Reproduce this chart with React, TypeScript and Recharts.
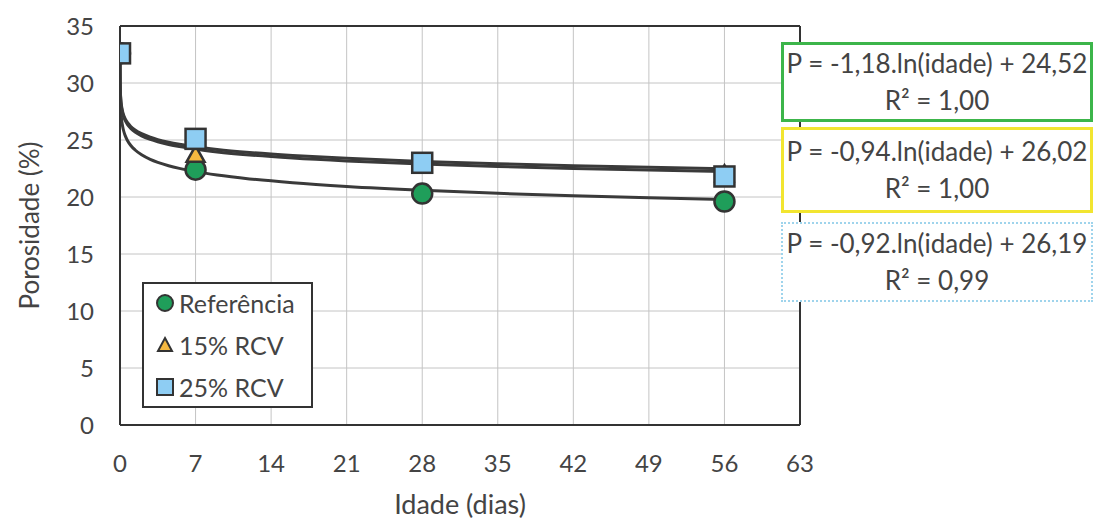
import React from "react";
import {
  ComposedChart,
  Scatter,
  Line,
  XAxis,
  YAxis,
  CartesianGrid,
  ReferenceLine,
} from "recharts";

// ---- data ----
const ages = [0.001, 7, 28, 56];
const referencia = [32.6, 22.4, 20.3, 19.6];
const rcv15 = [32.5, 23.7, 22.9, 22.0];
const rcv25 = [32.6, 25.1, 23.0, 21.8];

const seriesNames = ["Referência", "15% RCV", "25% RCV"];
// logarithmic trendline coefficients printed in the chart: P = a.ln(idade) + b
const trendSlopes = [-1.18, -0.94, -0.92];
const trendIntercepts = [24.52, 26.02, 26.19];
const trendR2 = ["1,00", "1,00", "0,99"];
const equationLabels = [
  "P = -1,18.ln(idade) + 24,52",
  "P = -0,94.ln(idade) + 26,02",
  "P = -0,92.ln(idade) + 26,19",
];

const xTicks = [0, 7, 14, 21, 28, 35, 42, 49, 56, 63];
const yTicks = [0, 5, 10, 15, 20, 25, 30, 35];
const trendX = [
  0.001, 0.002, 0.004, 0.008, 0.015, 0.03, 0.06, 0.1, 0.15, 0.2, 0.3, 0.4, 0.5,
  0.7, 1, 1.4, 2, 2.8, 3.5, 4.5, 5.5, 7, 9, 12, 16, 21, 28, 35, 42, 49, 56,
];

const FONT = "Lato, 'Open Sans', sans-serif";
const TEXT = "#444";

const toPoints = (ys: number[]) => ages.map((x, i) => ({ x, y: ys[i] }));
const trendData = (k: number) =>
  trendX.map((x) => ({ x, y: trendSlopes[k] * Math.log(x) + trendIntercepts[k] }));

const Circle = (p: any) => (
  <circle cx={p.cx} cy={p.cy} r={10} fill="#1f9e5a" stroke="#333" strokeWidth={2.5} />
);
const Triangle = (p: any) => (
  <polygon
    points={`${p.cx},${p.cy - 9} ${p.cx + 9},${p.cy + 7} ${p.cx - 9},${p.cy + 7}`}
    fill="#f5b840"
    stroke="#333"
    strokeWidth={2.5}
  />
);
const Square = (p: any) => (
  <rect x={p.cx - 10} y={p.cy - 10} width={20} height={20} fill="#8ecdf3" stroke="#333" strokeWidth={2.5} />
);

const legendIcons = [
  <svg width={20} height={20}><circle cx={10} cy={10} r={8} fill="#1f9e5a" stroke="#333" strokeWidth={2} /></svg>,
  <svg width={20} height={20}><polygon points="10,3 17,16 3,16" fill="#f5b840" stroke="#333" strokeWidth={2} /></svg>,
  <svg width={20} height={20}><rect x={2} y={2} width={16} height={16} fill="#8ecdf3" stroke="#333" strokeWidth={2} /></svg>,
];

const boxStyles = [
  { top: 42, height: 80, border: "3px solid #3cb54a" },
  { top: 127, height: 86, border: "3px solid #f2e530" },
  { top: 222, height: 80, border: "2px dotted #9fd4ec" },
];

export default function App() {
  return (
    <div
      style={{
        position: "fixed",
        left: 0,
        top: 0,
        width: 1095,
        height: 519,
        overflow: "hidden",
        background: "#fff",
      }}
    >
      <ComposedChart
        width={1095}
        height={519}
        margin={{ top: 26, right: 295, bottom: 64, left: 0 }}
      >
        <CartesianGrid stroke="#c4c4c4" strokeWidth={1} />
        <XAxis
          type="number"
          dataKey="x"
          domain={[0, 63]}
          ticks={xTicks}
          height={30}
          tickLine={false}
          axisLine={{ stroke: "#333", strokeWidth: 2 }}
          tick={{ fill: TEXT, fontSize: 24, fontFamily: FONT }}
          tickMargin={24}
          allowDataOverflow
          label={{
            value: "Idade (dias)",
            position: "bottom",
            offset: 40,
            fill: TEXT,
            fontSize: 27,
            fontFamily: FONT,
          }}
        />
        <YAxis
          type="number"
          dataKey="y"
          domain={[0, 35]}
          ticks={yTicks}
          width={120}
          tickLine={false}
          axisLine={{ stroke: "#333", strokeWidth: 2 }}
          tick={{ fill: TEXT, fontSize: 24, fontFamily: FONT }}
          tickMargin={20}
          label={{
            value: "Porosidade (%)",
            angle: -90,
            position: "insideLeft",
            offset: 30,
            style: { textAnchor: "middle" },
            fill: TEXT,
            fontSize: 26,
            fontFamily: FONT,
          }}
        />
        <ReferenceLine y={35} stroke="#333" strokeWidth={2} />
        <ReferenceLine x={63} stroke="#333" strokeWidth={2} />
        <Scatter name={seriesNames[0]} data={toPoints(referencia)} shape={Circle} isAnimationActive={false} />
        <Scatter name={seriesNames[1]} data={toPoints(rcv15)} shape={Triangle} isAnimationActive={false} />
        <Scatter name={seriesNames[2]} data={toPoints(rcv25)} shape={Square} isAnimationActive={false} />
        {[0, 1, 2].map((k) => (
          <Line
            key={k}
            data={trendData(k)}
            dataKey="y"
            type="monotone"
            stroke="#3a3a3a"
            strokeWidth={3}
            dot={false}
            activeDot={false}
            legendType="none"
            isAnimationActive={false}
          />
        ))}
      </ComposedChart>
      <div
        style={{
          position: "absolute",
          left: 142,
          top: 282,
          width: 167,
          height: 122,
          border: "2px solid #333",
          background: "#fff",
          fontFamily: FONT,
          fontSize: 25,
          color: TEXT,
          boxSizing: "content-box",
        }}
      >
        <div style={{ marginTop: -2 }}>
          {seriesNames.map((n, i) => (
            <div key={n} style={{ display: "flex", alignItems: "center", height: 42, paddingLeft: 11 }}>
              <span style={{ width: 23, display: "inline-flex" }}>{legendIcons[i]}</span>
              <span style={{ marginLeft: 1 }}>{n}</span>
            </div>
          ))}
        </div>
      </div>
      {equationLabels.map((eq, i) => (
        <div
          key={eq}
          style={{
            position: "absolute",
            left: 781,
            width: 312,
            boxSizing: "border-box",
            top: boxStyles[i].top,
            height: boxStyles[i].height,
            border: boxStyles[i].border,
            background: "#fff",
            fontFamily: FONT,
            fontSize: 26,
            color: TEXT,
            textAlign: "center",
            display: "flex",
            flexDirection: "column",
            justifyContent: "center",
            lineHeight: "37px",
            whiteSpace: "nowrap",
          }}
        >
          <div>{eq}</div>
          <div>R² = {trendR2[i]}</div>
        </div>
      ))}
    </div>
  );
}
